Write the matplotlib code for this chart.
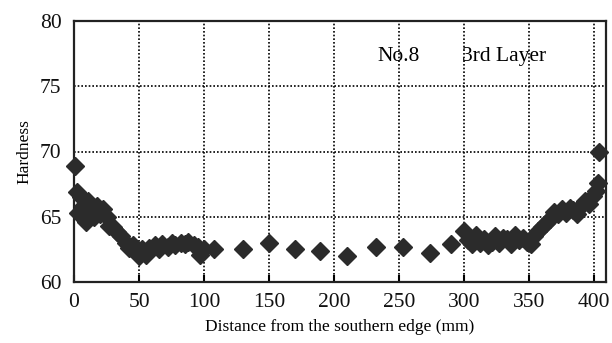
import matplotlib
matplotlib.use("Agg")
import matplotlib.pyplot as plt

distance = [1, 2, 3, 5, 7, 9, 11, 13, 15, 18, 20, 22, 25, 27, 30, 33, 36, 40, 42, 45, 48, 50, 52,
            55, 58, 62, 65, 68, 72, 75, 78, 82, 85, 88, 92, 95, 97, 100,
            108, 130, 150, 170, 189, 210, 232, 253, 274, 290,
            300, 303, 306, 309, 312, 315, 318, 321, 324, 327, 330, 333, 336, 339, 342, 345, 348,
            351, 354, 357, 360, 363, 366, 369, 372, 375, 378, 381, 384, 387, 390, 393, 396, 399,
            401, 403, 404]
hardness = [68.9, 66.9, 65.3, 66.5, 65.8, 64.6, 66.2, 65.5, 65.0, 65.8, 65.2, 65.6, 65.0, 64.3, 64.2,
            63.8, 63.5, 63.0, 62.6, 62.8, 62.3, 62.0, 62.5, 62.1, 62.6, 62.8, 62.5, 62.9, 62.7,
            63.0, 62.8, 63.0, 62.9, 63.1, 62.8, 62.7, 62.1, 62.5,
            62.5, 62.5, 63.0, 62.5, 62.4, 62.0, 62.7, 62.7, 62.2, 62.9,
            63.9, 63.2, 62.9, 63.6, 63.0, 63.3, 62.8, 63.1, 63.5, 63.0, 63.4, 63.3, 62.9, 63.6,
            63.2, 63.4, 63.1, 62.9, 63.5, 63.9, 64.2, 64.5, 64.8, 65.4, 65.2, 65.6, 65.3, 65.7,
            65.5, 65.2, 65.8, 66.2, 66.0, 66.6, 67.0, 67.6, 70.0]
x_ticks = [0, 50, 100, 150, 200, 250, 300, 350, 400]
y_ticks = [60, 65, 70, 75, 80]

plt.rcParams['font.family'] = ['Liberation Serif', 'DejaVu Serif']

fig = plt.figure(figsize=(6.12, 3.43), dpi=100)
ax = fig.add_axes([74/612, 61/343, 532/612, 261/343])

ax.plot(distance, hardness, linestyle='none', marker='D', markersize=8.8,
        color='#2b2b2b', markeredgecolor='#2b2b2b', zorder=3, clip_on=False)

ax.set_xlim(0, 409)
ax.set_ylim(60, 80)
ax.set_xticks(x_ticks)
ax.set_yticks(y_ticks)
ax.tick_params(axis='both', direction='in', length=5, width=1.5, labelsize=15.5, pad=8)
ax.tick_params(axis='y', length=0, pad=9)
for lbl in ax.get_xticklabels() + ax.get_yticklabels():
    lbl.set_color('#111111')

ax.grid(True, color='black', linestyle=(0, (1, 1.2)), linewidth=1.2)
ax.set_axisbelow(True)
for sp in ax.spines.values():
    sp.set_linewidth(1.6)
    sp.set_color('#222222')

ax.set_xlabel('Distance from the southern edge (mm)', fontsize=12.5, labelpad=5)
ax.set_ylabel('Hardness', fontsize=12.5, labelpad=5)

ax.text(233, 77.25, 'No.8', fontsize=15.5, ha='left', va='center')
ax.text(298, 77.25, '3rd Layer', fontsize=15.5, ha='left', va='center')

fig.savefig('out.png', dpi=100)
